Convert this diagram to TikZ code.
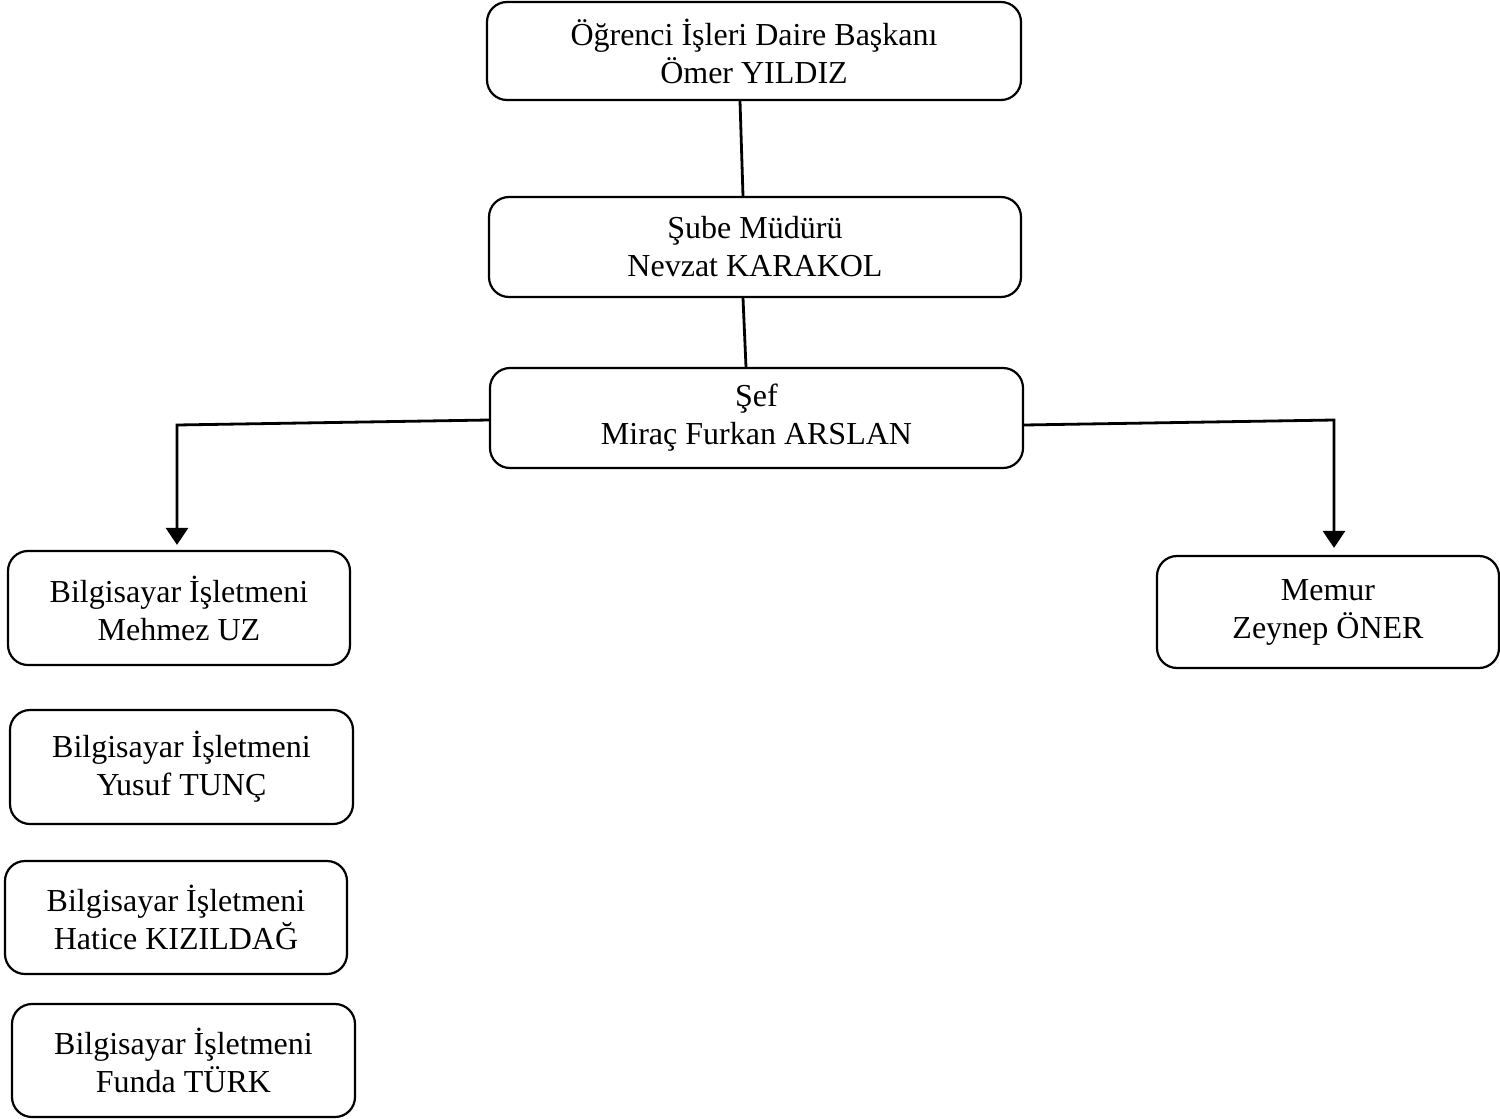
\documentclass[tikz,border=0pt]{standalone}
\usepackage{fontspec}
\setmainfont{Liberation Serif}
\usetikzlibrary{arrows.meta,calc}
\begin{document}
\begin{tikzpicture}[x=1pt,y=-1pt,
  box/.style={draw,line width=2.2pt,rounded corners=20pt,align=center,inner sep=0pt,
    font=\fontsize{32}{38}\selectfont},
  conn/.style={line width=2.8pt},
  arr/.style={line width=2.8pt,-{Triangle[width=22pt,length=17pt]}}]
\useasboundingbox (0,0) rectangle (1500,1119);
\node[box,minimum width=534pt,minimum height=98pt] (top) at (754,51) {Öğrenci İşleri Daire Başkanı\\Ömer YILDIZ};
\node[box,minimum width=532pt,minimum height=100pt] (sube) at (755,247) {Şube Müdürü\\Nevzat KARAKOL};
\node[box,minimum width=533pt,minimum height=100pt] (sef) at (756.5,418) {Şef\\Miraç Furkan ARSLAN};
\node[box,minimum width=342pt,minimum height=114pt] (b1) at (179,608) {Bilgisayar İşletmeni\\Mehmez UZ};
\node[box,minimum width=343pt,minimum height=114pt] (b2) at (181.5,767) {Bilgisayar İşletmeni\\Yusuf TUNÇ};
\node[box,minimum width=342pt,minimum height=113pt] (b3) at (176,917.5) {Bilgisayar İşletmeni\\Hatice KIZILDAĞ};
\node[box,minimum width=343pt,minimum height=113pt] (b4) at (183.5,1060.5) {Bilgisayar İşletmeni\\Funda TÜRK};
\node[box,minimum width=342pt,minimum height=112pt] (mem) at (1328,612) {Memur\\Zeynep ÖNER};
\coordinate (lc) at (177,425);
\coordinate (rc) at (1334,420);
\draw[conn] (top.south -| 740,0) -- (sube.north -| 743,0);
\draw[conn] (sube.south -| 743,0) -- (sef.north -| 746,0);
\draw[arr,shorten >=5pt] (sef.west |- 0,420) -- (lc) -- (b1.north -| lc);
\draw[arr,shorten >=7pt] (sef.east |- 0,425) -- (rc) -- (mem.north -| rc);
\end{tikzpicture}
\end{document}
